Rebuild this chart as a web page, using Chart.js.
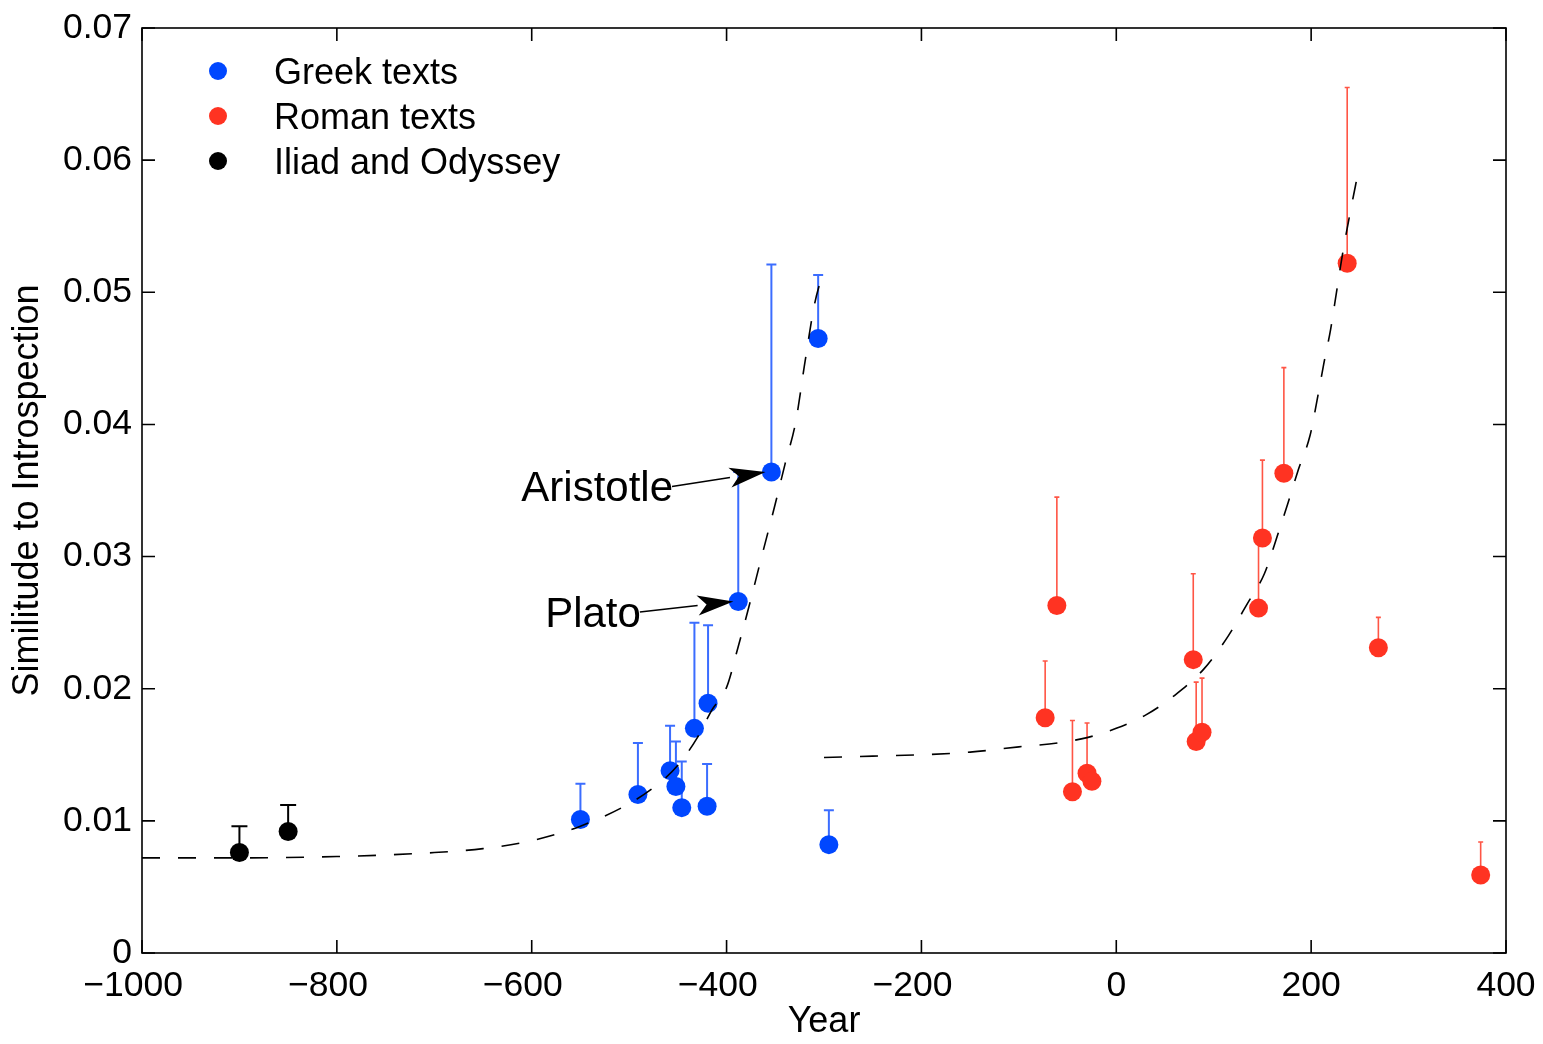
<!DOCTYPE html>
<html>
<head>
<meta charset="utf-8">
<script src="https://cdn.jsdelivr.net/npm/chart.js@4/dist/chart.umd.min.js"></script>
<style>
  html, body { margin: 0; padding: 0; background: #fff; }
  #chart { display: block; }
</style>
</head>
<body>
<canvas id="chart" width="1543" height="1044"></canvas>
<script>
// --- data ---
const greekYears = [-550, -491, -458, -452, -446, -433, -420, -419, -388, -354, -306, -295];
const greekScores = [0.0101, 0.0120, 0.0138, 0.0126, 0.0110, 0.0170, 0.0111, 0.0189, 0.0266, 0.0364, 0.0465, 0.0082];
const greekUpper = [0.0128, 0.0159, 0.0172, 0.0160, 0.0145, 0.0250, 0.0143, 0.0248, 0.0364, 0.0521, 0.0513, 0.0108];

const romanYears = [-73, -61, -45, -30, -25, 79, 82, 88, 146, 150, 172, 237, 269, 374];
const romanScores = [0.0178, 0.0263, 0.0122, 0.0136, 0.0130, 0.0222, 0.0160, 0.0167, 0.0261, 0.0314, 0.0363, 0.0522, 0.0231, 0.0059];
const romanUpper = [0.0221, 0.0345, 0.0176, 0.0174, 0.0137, 0.0287, 0.0205, 0.0208, 0.0312, 0.0373, 0.0443, 0.0655, 0.0254, 0.0084];

const homerYears = [-900, -850];
const homerScores = [0.0076, 0.0092];
const homerUpper = [0.0096, 0.0112];

const greekFitYears = [-1000, -900, -800, -700, -650, -600, -550, -500, -470, -450, -430, -415, -400, -388, -376, -365, -350, -340, -329, -320, -310, -302];
const greekFitScores = [0.0072, 0.0072, 0.0073, 0.0076, 0.0079, 0.0085, 0.0096, 0.0113, 0.0128, 0.0142, 0.0163, 0.0184, 0.0201, 0.0232, 0.0265, 0.0297, 0.0340, 0.0370, 0.0402, 0.0445, 0.0490, 0.0513];

const romanFitYears = [-300, -250, -200, -150, -100, -60, -30, 0, 30, 60, 90, 115, 135, 152, 165, 176, 187, 199, 206, 213, 220, 226, 232, 240, 248];
const romanFitScores = [0.0148, 0.0149, 0.0150, 0.0152, 0.0156, 0.0159, 0.0163, 0.0170, 0.0180, 0.0195, 0.0215, 0.0240, 0.0265, 0.0287, 0.0315, 0.0340, 0.0366, 0.0392, 0.0418, 0.0446, 0.0472, 0.0500, 0.0528, 0.0560, 0.0590];

const xTicks = [-1000, -800, -600, -400, -200, 0, 200, 400];
const yTicks = [0, 0.01, 0.02, 0.03, 0.04, 0.05, 0.06, 0.07];

const legendLabels = ['Greek texts', 'Roman texts', 'Iliad and Odyssey'];

const BLUE = '#0047ff';
const RED = '#ff3322';
const FONT = '"Liberation Sans", Arial, Helvetica, sans-serif';

const toPoints = (xs, ys) => xs.map((v, i) => ({ x: v, y: ys[i] }));

const series = [
  { color: BLUE, bar: '#3b6dff', cap: 10, width: 2, xs: greekYears, ys: greekScores, tops: greekUpper },
  { color: RED, bar: '#ff5545', cap: 5, width: 1.6, xs: romanYears, ys: romanScores, tops: romanUpper },
  { color: '#000', bar: '#000', cap: 16, width: 2, xs: homerYears, ys: homerScores, tops: homerUpper },
];

const notes = [
  { text: 'Aristotle', from: [-456, 0.0353], to: [-360, 0.0364] },
  { text: 'Plato', from: [-489, 0.0258], to: [-393, 0.0266] },
];

// upper error bars, under the markers
const errorBars = {
  id: 'errorBars',
  beforeDatasetsDraw(chart) {
    const { ctx, scales: { x, y } } = chart;
    ctx.save();
    series.forEach(s => {
      ctx.strokeStyle = s.bar;
      ctx.lineWidth = s.width;
      s.xs.forEach((v, i) => {
        const px = x.getPixelForValue(v);
        const py0 = y.getPixelForValue(s.ys[i]);
        const py1 = y.getPixelForValue(s.tops[i]);
        ctx.beginPath();
        ctx.moveTo(px, py0);
        ctx.lineTo(px, py1);
        ctx.moveTo(px - s.cap / 2, py1);
        ctx.lineTo(px + s.cap / 2, py1);
        ctx.stroke();
      });
    });
    ctx.restore();
  },
};

// matlab-ish box with inward ticks, legend, annotations
const frame = {
  id: 'frame',
  afterDraw(chart) {
    const { ctx, chartArea: a, scales: { x, y } } = chart;
    ctx.save();
    ctx.strokeStyle = '#000';
    ctx.lineWidth = 1.6;
    ctx.strokeRect(a.left, a.top, a.right - a.left, a.bottom - a.top);
    const tl = 13;
    ctx.beginPath();
    xTicks.forEach(v => {
      const px = x.getPixelForValue(v);
      ctx.moveTo(px, a.bottom); ctx.lineTo(px, a.bottom - tl);
      ctx.moveTo(px, a.top); ctx.lineTo(px, a.top + tl);
    });
    yTicks.forEach(v => {
      const py = y.getPixelForValue(v);
      ctx.moveTo(a.left, py); ctx.lineTo(a.left + tl, py);
      ctx.moveTo(a.right, py); ctx.lineTo(a.right - tl, py);
    });
    ctx.stroke();

    // legend
    ctx.font = '36px ' + FONT;
    ctx.textBaseline = 'middle';
    ctx.textAlign = 'left';
    legendLabels.forEach((label, i) => {
      const cy = a.top + 43 + i * 45;
      ctx.fillStyle = series[i].color;
      ctx.beginPath();
      ctx.arc(a.left + 76, cy, 9, 0, Math.PI * 2);
      ctx.fill();
      ctx.fillStyle = '#000';
      ctx.fillText(label, a.left + 132, cy + 3);
    });

    // annotations with arrows
    ctx.font = '42px ' + FONT;
    ctx.textAlign = 'right';
    notes.forEach(n => {
      const x0 = x.getPixelForValue(n.from[0]), y0 = y.getPixelForValue(n.from[1]);
      const x1 = x.getPixelForValue(n.to[0]), y1 = y.getPixelForValue(n.to[1]);
      ctx.fillStyle = '#000';
      ctx.fillText(n.text, x0 + 1, y0 + 3);
      const ang = Math.atan2(y1 - y0, x1 - x0);
      const hl = 36, hw = 10;
      const bx = x1 - hl * Math.cos(ang), by = y1 - hl * Math.sin(ang);
      ctx.lineWidth = 1.6;
      ctx.beginPath();
      ctx.moveTo(x0, y0);
      ctx.lineTo(bx, by);
      ctx.stroke();
      ctx.beginPath();
      ctx.moveTo(x1, y1);
      ctx.lineTo(bx - hw * Math.sin(ang), by + hw * Math.cos(ang));
      ctx.lineTo(bx + 9 * Math.cos(ang), by + 9 * Math.sin(ang));
      ctx.lineTo(bx + hw * Math.sin(ang), by - hw * Math.cos(ang));
      ctx.closePath();
      ctx.fill();
    });
    ctx.restore();
  },
};

const dots = (label, xs, ys, color) => ({
  label,
  data: toPoints(xs, ys),
  showLine: false,
  pointRadius: 9.5,
  pointBackgroundColor: color,
  pointBorderWidth: 0,
  order: 1,
});

const fit = (xs, ys) => ({
  data: toPoints(xs, ys),
  showLine: true,
  borderColor: '#000',
  borderWidth: 1.6,
  borderDash: [18, 18],
  pointRadius: 0,
  cubicInterpolationMode: 'monotone',
  order: 0,
});

const tickFont = { family: FONT, size: 35.5 };
const titleFont = { family: FONT, size: 36 };

new Chart('chart', {
  type: 'scatter',
  data: {
    datasets: [
      dots('Greek texts', greekYears, greekScores, BLUE),
      dots('Roman texts', romanYears, romanScores, RED),
      dots('Iliad and Odyssey', homerYears, homerScores, '#000'),
      fit(greekFitYears, greekFitScores),
      fit(romanFitYears, romanFitScores),
    ],
  },
  options: {
    responsive: false,
    animation: false,
    devicePixelRatio: 1,
    layout: { padding: { left: 0, top: 28, right: 37, bottom: 0 } },
    plugins: { legend: { display: false }, tooltip: { enabled: false } },
    scales: {
      x: {
        type: 'linear',
        min: -1000,
        max: 400,
        afterFit: s => { s.height = 91; s.paddingLeft = 0; s.paddingRight = 0; },
        afterBuildTicks: s => { s.ticks = xTicks.map(v => ({ value: v })); },
        grid: { display: false, drawTicks: false },
        border: { display: false },
        ticks: {
          padding: 12,
          color: '#000',
          font: tickFont,
          maxRotation: 0,
          callback: v => (v < 0 ? '\u2212' + Math.abs(v) + '\u2002' : String(v)),
        },
        title: { display: true, text: 'Year', color: '#000', font: titleFont, padding: { top: 0, bottom: 0 } },
      },
      y: {
        type: 'linear',
        min: 0,
        max: 0.07,
        afterFit: s => { s.width = 142; s.paddingTop = 0; s.paddingBottom = 0; },
        afterBuildTicks: s => { s.ticks = yTicks.map(v => ({ value: v })); },
        grid: { display: false, drawTicks: false },
        border: { display: false },
        ticks: {
          padding: 10,
          color: '#000',
          font: tickFont,
          callback: v => (v === 0 ? '0' : v.toFixed(2)),
        },
        title: { display: true, text: 'Similitude to Introspection', color: '#000', font: titleFont, padding: { top: 6, bottom: 0 } },
      },
    },
  },
  plugins: [errorBars, frame],
});
</script>
</body>
</html>
